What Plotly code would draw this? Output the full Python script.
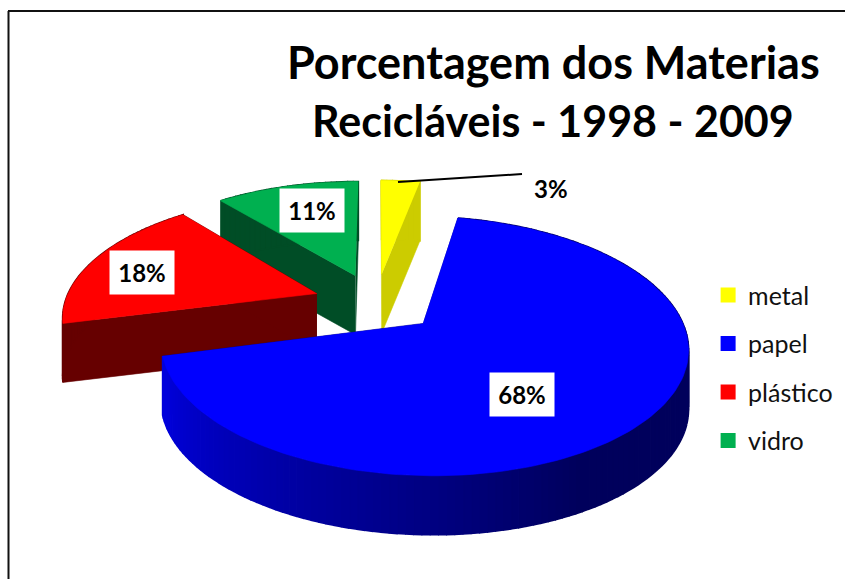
import math
import plotly.graph_objects as go

categories = ["metal", "papel", "plástico", "vidro"]
values = [3, 68, 18, 11]
top_colors = ["#FFFF00", "#0000FF", "#FF0000", "#00B050"]
side_colors = ["#CCCC00", "#000099", "#660000", "#004D26"]
label_offsets = [None, (522, 394), (142, 272), (312, 210)]
draw_order = [3, 2, 0, 1]

OX, OY = 376, 302.5
RX, RY = 252, 118.5
K, H, PULL = 0.17, 59, 0.25
FONT = "Lato"


def project(X, Z, drop=0.0):
    w = 1 + K * Z
    return OX + RX * X / w, OY - RY * Z / w + drop


def blue_shade(theta):
    t = (math.degrees(theta) - 150) / 100
    t = max(0.0, min(1.0, t))
    return f"rgb(0,0,{int(92 + 128 * t)})"


fig = go.Figure()


def face(points, color, width=0.6):
    fig.add_trace(go.Scatter(
        x=[p[0] for p in points], y=[p[1] for p in points],
        mode="lines", fill="toself", fillcolor=color,
        line=dict(color=color, width=width), hoverinfo="skip", showlegend=False))


starts, acc = [], 0.0
total = sum(values)
for v in values:
    starts.append(acc)
    acc += v / total * 2 * math.pi

for i in draw_order:
    a0 = starts[i]
    a1 = a0 + values[i] / total * 2 * math.pi
    mid = (a0 + a1) / 2
    ax, az = PULL * math.sin(mid), PULL * math.cos(mid)
    n = max(6, int((a1 - a0) / math.radians(1.5)))
    angles = [a0 + (a1 - a0) * j / n for j in range(n + 1)]
    rim = [(ax + math.sin(t), az + math.cos(t)) for t in angles]
    for edge in (rim[0], rim[-1]):
        face([project(ax, az), project(*edge), project(*edge, H), project(ax, az, H)], side_colors[i])
    for j in range(n):
        col = blue_shade(angles[j]) if i == 1 else side_colors[i]
        face([project(*rim[j]), project(*rim[j + 1]), project(*rim[j + 1], H), project(*rim[j], H)], col, 1.6)
    face([project(ax, az)] + [project(*p) for p in rim], top_colors[i])

for name, col in zip(categories, top_colors):
    fig.add_trace(go.Scatter(x=[None], y=[None], mode="markers", name=name, legendgroup=name,
                             marker=dict(symbol="square", size=15, color=col)))

annotations = []
for i, pos in enumerate(label_offsets):
    if pos is None:
        continue
    annotations.append(dict(x=pos[0], y=pos[1], text=f"<b>{values[i]}%</b>", showarrow=False,
                            bgcolor="white", width=62, height=41,
                            font=dict(family=FONT, size=24, color="black")))
annotations.append(dict(x=551, y=188, text=f"<b>{values[0]}%</b>", showarrow=False,
                        font=dict(family=FONT, size=24, color="black")))
annotations.append(dict(x=553, y=62, text="<b>Porcentagem dos Materias</b>", showarrow=False,
                        font=dict(family=FONT, size=45, color="black")))
annotations.append(dict(x=553, y=120, text="<b>Recicláveis - 1998 - 2009</b>", showarrow=False,
                        font=dict(family=FONT, size=43, color="black")))

shapes = [
    dict(type="line", x0=398, y0=182, x1=522, y1=174, line=dict(color="black", width=2)),
    dict(type="line", x0=8.5, y0=579, x1=8.5, y1=11, line=dict(color="#111111", width=2)),
    dict(type="line", x0=8, y0=11, x1=845, y1=11, line=dict(color="#111111", width=2)),
]

fig.update_layout(
    width=845, height=579, margin=dict(l=0, r=0, t=0, b=0),
    paper_bgcolor="white", plot_bgcolor="white",
    xaxis=dict(range=[0, 845], visible=False, fixedrange=True),
    yaxis=dict(range=[579, 0], visible=False, fixedrange=True),
    annotations=annotations, shapes=shapes,
    legend=dict(x=0.838, y=0.530, xanchor="left", yanchor="top", bgcolor="rgba(0,0,0,0)",
                font=dict(family=FONT, size=25, color="#111111"), itemwidth=30,
                tracegroupgap=13),
)
fig.write_html("out.html", config={"displayModeBar": False},
               post_script="document.body.style.margin='0';")
